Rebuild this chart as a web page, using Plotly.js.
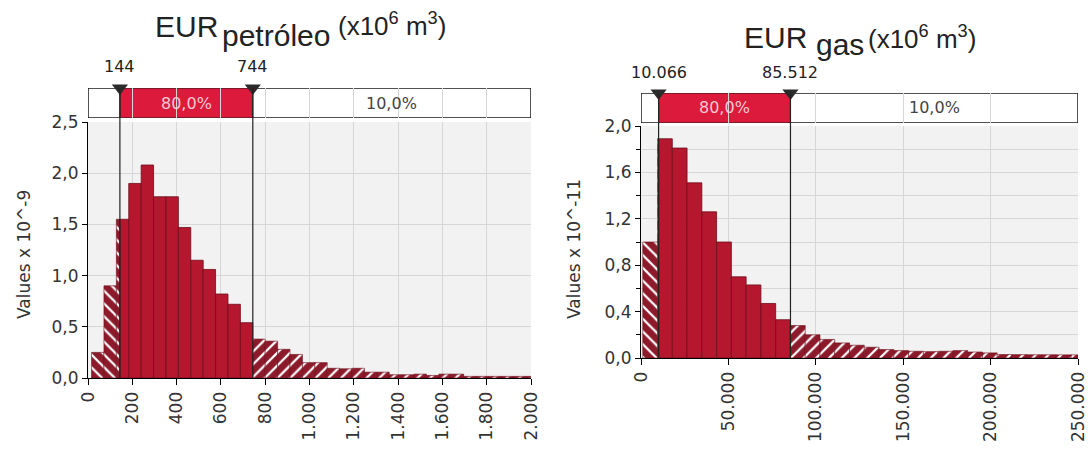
<!DOCTYPE html>
<html>
<head>
<meta charset="utf-8">
<script src="https://cdn.plot.ly/plotly-3.0.1.min.js"></script>
<style>html,body{margin:0;padding:0;background:#fff;}#chart{width:1088px;height:458px;}</style>
</head>
<body>
<div id="chart"></div>
<script>
// ---------- DATA ----------
const oilBinStart = [16,72,128,184,240,296,352,408,464,520,576,632,688,744,800,856,912,968,1024,1080,1136,1192,1248,1304,1360,1416,1472,1528,1584,1640,1696,1752,1808,1864,1920,1976];
const oilBinWidth = 56;
const oilValues = [0.25,0.90,1.55,1.90,2.08,1.77,1.77,1.47,1.15,1.06,0.82,0.72,0.54,0.38,0.36,0.28,0.23,0.15,0.15,0.095,0.09,0.095,0.057,0.057,0.032,0.032,0.038,0.025,0.038,0.038,0.016,0.016,0.016,0.016,0.016,0.016];
const oilPercentiles = [144, 744];
const oilPercentLabels = ["80,0%", "10,0%"];
const oilXTicks = [0,200,400,600,800,1000,1200,1400,1600,1800,2000];
const oilYTicks = [0,0.5,1.0,1.5,2.0,2.5];

const gasBinStart = [1000,9450,17900,26350,34800,43250,51700,60150,68600,77050,85500,93950,102400,110850,119300,127750,136200,144650,153100,161550,170000,178450,186900,195350,203800,212250,220700,229150,237600,246050];
const gasBinWidth = 8450;
const gasValues = [1.0,1.89,1.81,1.51,1.26,1.0,0.70,0.63,0.47,0.33,0.28,0.20,0.16,0.13,0.11,0.093,0.073,0.064,0.058,0.055,0.058,0.064,0.052,0.044,0.03,0.029,0.028,0.028,0.027,0.027];
const gasPercentiles = [10066, 85512];
const gasPercentLabels = ["80,0%", "10,0%"];
const gasXTicks = [0,50000,100000,150000,200000,250000];
const gasYTicks = [0,0.4,0.8,1.2,1.6,2.0];

// ---------- HELPERS ----------
function fmtThousands(v){
  return String(Math.round(v)).replace(/\B(?=(\d{3})+(?!\d))/g, ".");
}
function splitBins(starts, width, vals, p10, p90){
  const out = {lo:{x:[],w:[],y:[]}, mid:{x:[],w:[],y:[]}, hi:{x:[],w:[],y:[]}};
  starts.forEach((a,i)=>{
    const b = a + width, v = vals[i];
    const push = (k, s, e)=>{ if(e - s > 1e-9){ out[k].x.push((s+e)/2); out[k].w.push(e-s); out[k].y.push(v);} };
    push('lo', a, Math.min(b, p10));
    push('mid', Math.max(a, p10), Math.min(b, p90));
    push('hi', Math.max(a, p90), b);
  });
  return out;
}

const HATCH_BG = '#8c1a2b';
const SOLID = '#b5172f';
const EDGE = '#6e0c19';
const FONT = 'DejaVu Sans, Verdana, sans-serif';

function histTraces(parts, xa, ya){
  return [
    {type:'bar', x:parts.lo.x, y:parts.lo.y, width:parts.lo.w, xaxis:xa, yaxis:ya,
     marker:{color:HATCH_BG, line:{color:EDGE,width:0.6},
       pattern:{shape:'\\', fgcolor:'#ffffff', bgcolor:HATCH_BG, size:9, solidity:0.25}}, hoverinfo:'skip'},
    {type:'bar', x:parts.mid.x, y:parts.mid.y, width:parts.mid.w, xaxis:xa, yaxis:ya,
     marker:{color:SOLID, line:{color:EDGE,width:0.8}}, hoverinfo:'skip'},
    {type:'bar', x:parts.hi.x, y:parts.hi.y, width:parts.hi.w, xaxis:xa, yaxis:ya,
     marker:{color:HATCH_BG, line:{color:EDGE,width:0.6},
       pattern:{shape:'/', fgcolor:'#ffffff', bgcolor:HATCH_BG, size:9, solidity:0.25}}, hoverinfo:'skip'}
  ];
}

const oilParts = splitBins(oilBinStart, oilBinWidth, oilValues, oilPercentiles[0], oilPercentiles[1]);
const gasParts = splitBins(gasBinStart, gasBinWidth, gasValues, gasPercentiles[0], gasPercentiles[1]);

const W = 1088, H = 458;
const px = v => v / W;
const py = v => 1 - v / H;

// layout geometry (pixels)
const L = {x0:88, x1:531, yTop:122, yBot:378, sTop:88, sBot:118};
const R = {x0:641, x1:1078, yTop:126, yBot:358, sTop:93, sBot:123};

const traces = [
  ...histTraces(oilParts, 'x', 'y'),
  ...histTraces(gasParts, 'x2', 'y2'),
  {type:'scatter', mode:'markers', x:oilPercentiles, y:[1,1], xaxis:'x', yaxis:'y3', cliponaxis:false,
   marker:{symbol:'triangle-down', size:14, color:'#2b2b2b'}, hoverinfo:'skip'},
  {type:'scatter', mode:'markers', x:gasPercentiles, y:[1,1], xaxis:'x2', yaxis:'y4', cliponaxis:false,
   marker:{symbol:'triangle-down', size:14, color:'#2b2b2b'}, hoverinfo:'skip'}
];

const tickFont = {family:FONT, size:17, color:'#333'};
function xAxis(dom, range, ticks, anchor){
  return {domain:dom, range:range, anchor:anchor, tickvals:ticks, ticktext:ticks.map(fmtThousands),
    tickangle:-90, ticks:'outside', ticklen:6, tickcolor:'#000', showline:true, linecolor:'#000', linewidth:1,
    ticklabeloverflow:'allow',
    showgrid:true, gridcolor:'#d6d6d6', zeroline:false, tickfont:tickFont, fixedrange:true};
}
function yAxis(dom, range, ticks, anchor, minor){
  const a = {domain:dom, range:range, anchor:anchor, tickvals:ticks, ticktext:ticks.map(v=>v.toFixed(1).replace('.',',')),
    ticks:'outside', ticklen:5, tickcolor:'#000', showline:true, linecolor:'#000', linewidth:1,
    ticklabeloverflow:'allow',
    showgrid:true, gridcolor:'#d6d6d6', zeroline:false, tickfont:tickFont, fixedrange:true};
  if(minor) a.minor = {dtick:minor, showgrid:true, gridcolor:'#d6d6d6', ticks:'outside', ticklen:4, tickcolor:'#000'};
  return a;
}

const layout = {
  width:W, height:H, margin:{l:0,r:0,t:0,b:0}, paper_bgcolor:'#ffffff', plot_bgcolor:'#f2f2f2',
  showlegend:false, barmode:'overlay', bargap:0,
  xaxis: xAxis([px(L.x0), px(L.x1)], [0,2000], oilXTicks, 'y'),
  yaxis: yAxis([py(L.yBot), py(L.yTop)], [0,2.5], oilYTicks, 'x', null),
  xaxis2: xAxis([px(R.x0), px(R.x1)], [0,250000], gasXTicks, 'y2'),
  yaxis2: yAxis([py(R.yBot), py(R.yTop)], [0,2.0], gasYTicks, 'x2', 0.2),
  yaxis3: {domain:[py(L.sBot), py(L.sTop)], range:[0,1], anchor:'x', visible:false, fixedrange:true},
  yaxis4: {domain:[py(R.sBot), py(R.sTop)], range:[0,1], anchor:'x2', visible:false, fixedrange:true},
  shapes: [],
  annotations: []
};

function addStrip(xref, yref, range, pct, labels, yBotPaper, yTopPaper, labelY){
  layout.shapes.push({type:'rect', xref:xref, yref:yref, x0:range[0], x1:range[1], y0:0, y1:1,
    fillcolor:'#ffffff', line:{color:'#1a1a1a', width:1.5}, layer:'below'});
  layout.shapes.push({type:'rect', xref:xref, yref:yref, x0:pct[0], x1:pct[1], y0:0, y1:1,
    fillcolor:'#dc1a3c', line:{color:'#1a1a1a', width:1}, layer:'below'});
  pct.forEach(p=>{
    layout.shapes.push({type:'line', xref:xref, yref:'paper', x0:p, x1:p, y0:yBotPaper, y1:yTopPaper,
      line:{color:'#222', width:1.2}, layer:'above'});
    layout.annotations.push({xref:xref, yref:'paper', x:p, y:py(labelY), text:fmtThousands(p), showarrow:false,
      xanchor:'center', yanchor:'middle', font:{family:FONT, size:16, color:'#222'}});
  });
  layout.annotations.push({xref:xref, yref:yref, x:(pct[0]+pct[1])/2, y:0.5, text:labels[0], showarrow:false,
    font:{family:FONT, size:16, color:'#f6c9d1'}});
  layout.annotations.push({xref:xref, yref:yref, x:(pct[1]+range[1])/2, y:0.5, text:labels[1], showarrow:false,
    font:{family:FONT, size:16, color:'#444'}});
}
addStrip('x', 'y3', [0,2000], oilPercentiles, oilPercentLabels, py(L.yBot), py(L.sTop), 67);
addStrip('x2', 'y4', [0,250000], gasPercentiles, gasPercentLabels, py(R.yBot), py(R.sTop), 73);

// titles
const TF = 'Liberation Sans, Arial, sans-serif';
function title(parts){
  parts.forEach(p=>layout.annotations.push({xref:'paper', yref:'paper', x:px(p.x), y:py(p.y), text:p.t, showarrow:false,
    xanchor:'left', yanchor:'middle', font:{family:TF, size:p.s, color:'#222'}}));
}
title([{t:'EUR', x:153, y:26, s:30}, {t:'petróleo', x:220, y:36, s:30}, {t:'(x10<sup>6</sup> m<sup>3</sup>)', x:336, y:25, s:26}]);
title([{t:'EUR', x:742, y:38, s:30}, {t:'gas', x:814, y:44, s:30}, {t:'(x10<sup>6</sup> m<sup>3</sup>)', x:866, y:38, s:26}]);

// y axis titles
layout.annotations.push({xref:'paper', yref:'paper', x:px(24), y:py(255), text:'Values x 10^-9', textangle:-90, showarrow:false,
  xanchor:'center', yanchor:'middle', font:{family:FONT, size:17, color:'#333'}});
layout.annotations.push({xref:'paper', yref:'paper', x:px(574), y:py(249), text:'Values x 10^-11', textangle:-90, showarrow:false,
  xanchor:'center', yanchor:'middle', font:{family:FONT, size:17, color:'#333'}});

Plotly.newPlot('chart', traces, layout, {staticPlot:true, displayModeBar:false});
</script>
</body>
</html>
